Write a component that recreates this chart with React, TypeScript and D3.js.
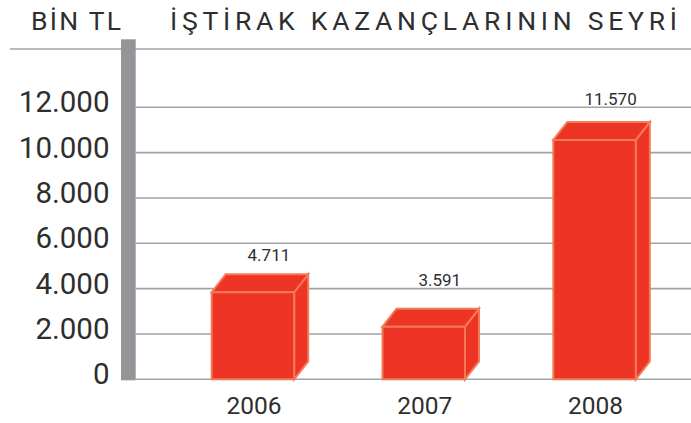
import React, { useEffect } from "react";
import * as d3 from "d3";

const years = ["2006", "2007", "2008"];
// value labels printed above the bars
const labelValues = [4711, 3591, 11570];
// height of the front face of each bar, as drawn in the picture
const barHeights = [3840, 2320, 10560];
const yTicks = [0, 2000, 4000, 6000, 8000, 10000, 12000];
const unitLabel = "BİN TL";
const title = "İŞTİRAK KAZANÇLARININ SEYRİ";

const W = 691;
const H = 423;
const FONT = "Roboto, 'DejaVu Sans', sans-serif";
const TEXT = "#2e2e2e";
const GRID = "#a3a3a3";
const RED = "#ee3424";
const EDGE = "#f47a58";

const fmt = (v: number) =>
  v === 0 ? "0" : d3.format(",")(v).replace(/,/g, ".");

export default function App() {
  useEffect(() => {
    document.body.style.margin = "0";
  }, []);

  const y = d3.scaleLinear().domain([0, 12000]).range([379.3, 107.3]);
  const x = d3
    .scaleBand<string>()
    .domain(years)
    .range([177.5, 670])
    .paddingInner(0.517)
    .paddingOuter(0.2);
  const bw = x.bandwidth();
  const dx = 14;
  const dy = 18;
  const plotLeft = 136;

  return (
    <svg width={W} height={H} style={{ display: "block", background: "#fff" }}>
      {/* top rule */}
      <line x1={10} x2={W} y1={49} y2={49} stroke={GRID} strokeWidth={1.6} />
      {/* title */}
      <text
        x={31}
        y={30}
        fontFamily={FONT}
        fontSize={26.5}
        fill={TEXT}
        textLength={90}
        lengthAdjust="spacing"
      >
        {unitLabel}
      </text>
      <text
        x={170}
        y={30}
        fontFamily={FONT}
        fontSize={26.5}
        fill={TEXT}
        textLength={507}
        lengthAdjust="spacing"
      >
        {title}
      </text>
      {/* gridlines */}
      {yTicks.map((t) => (
        <line
          key={"g" + t}
          x1={plotLeft}
          x2={W}
          y1={y(t)}
          y2={y(t)}
          stroke={GRID}
          strokeWidth={1.6}
        />
      ))}
      {/* vertical axis bar */}
      <rect x={121} y={39.3} width={14.7} height={y(0) + 1 - 39.3} fill="#939598" />
      {/* y tick labels */}
      {yTicks.map((t) => (
        <text
          key={"t" + t}
          x={109.5}
          y={y(t) + 5}
          textAnchor="end"
          fontFamily={FONT}
          fontSize={29.5}
          fill={TEXT}
        >
          {fmt(t)}
        </text>
      ))}
      {/* bars */}
      {years.map((yr, i) => {
        const x0 = x(yr) as number;
        const x1 = x0 + bw;
        const yb = y(0);
        const yt = y(barHeights[i]);
        const front = `M${x0},${yb}L${x0},${yt}L${x1},${yt}L${x1},${yb}Z`;
        const top = `M${x0},${yt}L${x0 + dx},${yt - dy}L${x1 + dx},${yt - dy}L${x1},${yt}Z`;
        const side = `M${x1},${yt}L${x1 + dx},${yt - dy}L${x1 + dx},${yb - dy}L${x1},${yb}Z`;
        return (
          <g key={yr} fill={RED} stroke={EDGE} strokeWidth={2} strokeLinejoin="miter">
            <path d={side} />
            <path d={top} />
            <path d={front} />
          </g>
        );
      })}
      {/* value labels */}
      {years.map((yr, i) => (
        <text
          key={"v" + yr}
          x={(x(yr) as number) + bw / 2 + 16}
          y={y(labelValues[i]) - 12}
          textAnchor="middle"
          fontFamily={FONT}
          fontSize={17}
          fill={TEXT}
        >
          {fmt(labelValues[i])}
        </text>
      ))}
      {/* x labels */}
      {years.map((yr) => (
        <text
          key={"x" + yr}
          x={(x(yr) as number) + bw / 2 + 1}
          y={413.5}
          textAnchor="middle"
          fontFamily={FONT}
          fontSize={24.5}
          fill={TEXT}
        >
          {yr}
        </text>
      ))}
    </svg>
  );
}
